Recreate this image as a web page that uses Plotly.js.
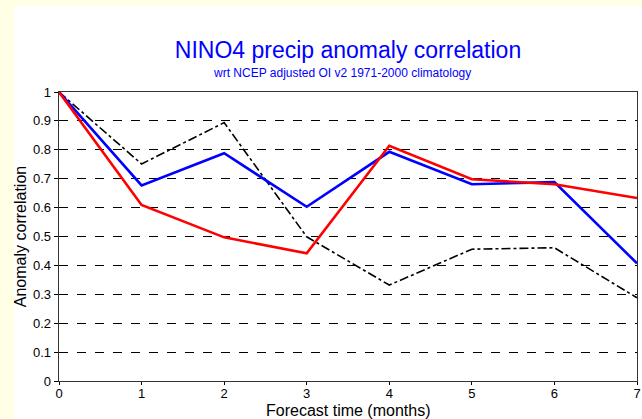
<!DOCTYPE html>
<html>
<head>
<meta charset="utf-8">
<script src="https://cdn.plot.ly/plotly-3.0.1.min.js"></script>
<style>
  html, body { margin: 0; padding: 0; background: #FFFFE6; }
  #chart { width: 642px; height: 419px; }
</style>
</head>
<body>
<div id="chart"></div>
<script>
// Forecast lead time in months
const leadMonths = [0, 1, 2, 3, 4, 5, 6, 7];

// Anomaly correlation for each forecast system
const redSeries   = [1.0, 0.609, 0.497, 0.442, 0.814, 0.698, 0.681, 0.633];
const blueSeries  = [1.0, 0.677, 0.788, 0.603, 0.793, 0.681, 0.688, 0.407];
const blackSeries = [1.0, 0.751, 0.894, 0.499, 0.332, 0.456, 0.461, 0.288];

const yTicks = [0, 0.1, 0.2, 0.3, 0.4, 0.5, 0.6, 0.7, 0.8, 0.9, 1];
const yTickText = ["0", "0.1", "0.2", "0.3", "0.4", "0.5", "0.6", "0.7", "0.8", "0.9", "1"];

const FONT = "Liberation Sans, Arial, Helvetica, sans-serif";

const traces = [
  { x: leadMonths, y: blackSeries, mode: "lines", line: { color: "#000000", width: 1.6, dash: "dashdot" }, hoverinfo: "skip" },
  { x: leadMonths, y: blueSeries,  mode: "lines", line: { color: "#0000FF", width: 2.6 }, hoverinfo: "skip" },
  { x: leadMonths, y: redSeries,   mode: "lines", line: { color: "#FF0000", width: 2.6 }, hoverinfo: "skip" }
];

const layout = {
  width: 642,
  height: 419,
  margin: { l: 59, r: 5, t: 92, b: 38, pad: 0 },
  paper_bgcolor: "#FFFFE6",
  plot_bgcolor: "#FFFFFF",
  showlegend: false,
  font: { family: FONT, color: "#000000", size: 12 },
  title: {
    text: "NINO4 precip anomaly correlation",
    font: { family: FONT, size: 23, color: "#0000FF" },
    x: 348 / 642, xanchor: "center", xref: "container",
    y: 1 - 50 / 419, yanchor: "middle", yref: "container"
  },
  annotations: [
    {
      text: "wrt NCEP adjusted OI v2 1971-2000 climatology",
      font: { family: FONT, size: 12, color: "#0000FF" },
      xref: "paper", yref: "paper",
      x: 0.49, y: 1 + (92 - 73) / 289,
      xanchor: "center", yanchor: "middle",
      showarrow: false
    },
    {
      text: "Forecast time (months)",
      font: { family: FONT, size: 16, color: "#000000" },
      xref: "paper", yref: "paper",
      x: 0.5, y: (381 - 410) / 289,
      xanchor: "center", yanchor: "middle",
      showarrow: false
    }
  ],
  shapes: [
    {
      type: "rect", layer: "below",
      xref: "paper", yref: "paper",
      x0: (14 - 59) / 578, x1: (642 - 59) / 578,
      y0: -38 / 289 - 0.01, y1: (381 - 6) / 289,
      fillcolor: "#FFFFFF", line: { width: 0 }
    }
  ],
  xaxis: {
    range: [0, 7],
    tickvals: leadMonths,
    ticks: "outside", ticklen: 3, tickwidth: 1, tickcolor: "#000000",
    ticklabelstandoff: -3,
    showline: true, linecolor: "#333333", linewidth: 1.3, mirror: true,
    showgrid: false, zeroline: false,
    tickfont: { family: FONT, size: 13, color: "#000000" },
    fixedrange: true
  },
  yaxis: {
    range: [0, 1],
    tickvals: yTicks, ticktext: yTickText,
    ticks: "outside", ticklen: 4, tickwidth: 1, tickcolor: "#000000",
    showline: true, linecolor: "#333333", linewidth: 1.3, mirror: true,
    showgrid: true, gridcolor: "#000000", gridwidth: 1, griddash: "dash",
    zeroline: false,
    tickfont: { family: FONT, size: 13, color: "#000000" },
    title: { text: "Anomaly correlation", font: { family: FONT, size: 16, color: "#000000" }, standoff: 2 },
    fixedrange: true
  }
};

Plotly.newPlot("chart", traces, layout, { displayModeBar: false, staticPlot: true });
</script>
</body>
</html>
